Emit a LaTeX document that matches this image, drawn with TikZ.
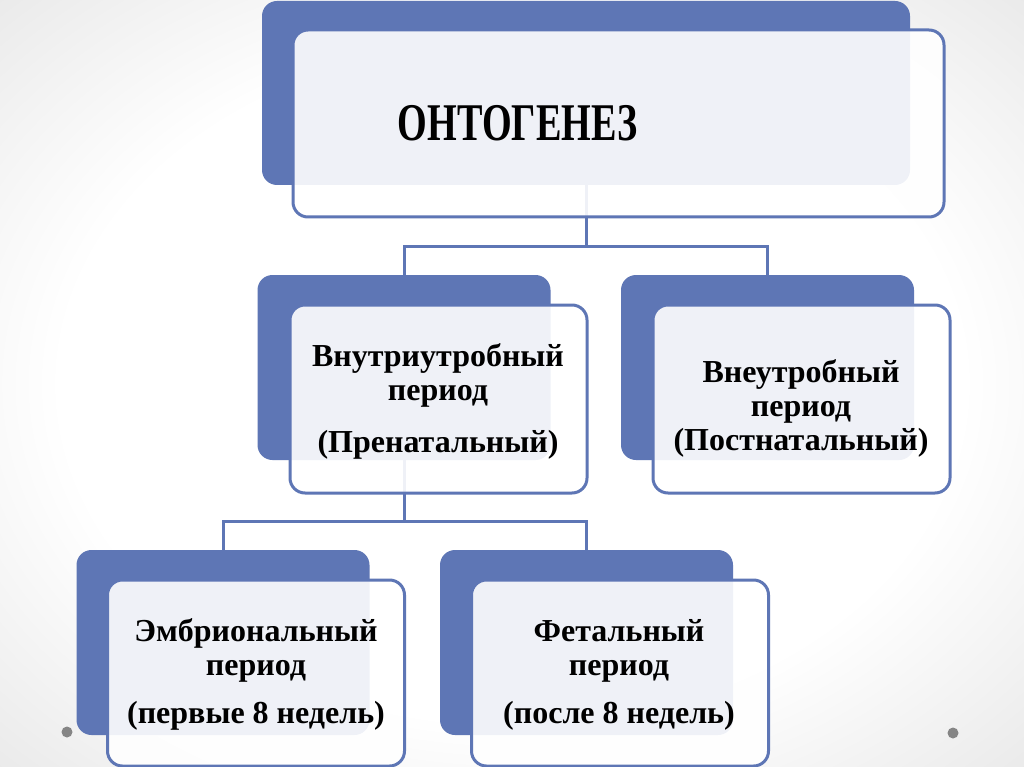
\documentclass[tikz,border=0pt]{standalone}
\usepackage{fontspec}
\setmainfont{Liberation Serif}
\newfontfamily\narrowserif[FakeStretch=0.72]{Liberation Serif}
\usetikzlibrary{calc}
\definecolor{slate}{HTML}{5E76B5}
\definecolor{pin}{HTML}{858585}
\pgfdeclareradialshading{slide}{\pgfpoint{0bp}{0bp}}{color(0bp)=(white);
  color(22bp)=(white); color(50bp)=(black!17); color(72bp)=(black!26)}

\begin{document}
\begin{tikzpicture}[
  x=1pt,y=1pt,font=\bfseries\fontsize{32}{34}\selectfont,
  back/.style={fill=slate,rounded corners=15pt,minimum width=293pt,
    minimum height=185pt,inner sep=0pt},
  front/.style={draw=slate,line width=3pt,fill=white,fill opacity=.9,
    rounded corners=15pt,minimum width=297pt,minimum height=188pt,inner sep=0pt},
  caption/.style={align=center,inner sep=0pt},
  link/.style={draw=slate,line width=3pt},
  pin/.style={circle,fill=pin,minimum size=11pt,inner sep=0pt}
]
\path[use as bounding box] (0,0) rectangle (1024,-767);
\shade[shading=slide] (0,0) rectangle (1024,-767);

% Blue backing plates; the framed boxes sit on top, shifted down right.
\node[back,minimum width=648pt,minimum height=184pt] (onto) at (586,-93) {};
\node[back] (intra) at (404,-367.5) {};
\node[back] (extra) at (767.5,-367.5) {};
\node[back] (embryo) at (223,-642.5) {};
\node[back] (fetal) at (586.5,-642.5) {};

\coordinate (fork1) at (586,-246);
\coordinate (fork2) at (404,-521);
\draw[link] (onto.south) -- (fork1) -| (intra.north);
\draw[link] (fork1) -| (extra.north);
\draw[link] (intra.south) -- (fork2) -| (embryo.north);
\draw[link] (fork2) -| (fetal.north);

\node[front,minimum width=651pt,minimum height=187pt] (ontobox) at (618.5,-123.5) {};
\node[front] (intrabox) at (438.5,-399) {};
\node[front] (extrabox) at (801.5,-399) {};
\node[front,minimum height=186pt] (embryobox) at (256,-673) {};
\node[front,minimum height=186pt] (fetalbox) at (620,-673) {};

\node[caption,font=\narrowserif\bfseries\fontsize{53}{60}\selectfont] (title)
  at (517.5,-123) {ОНТОГЕНЕЗ};
\node[caption] (intratext) at (438,-401) {Внутриутробный\\период\\[18pt](Пренатальный)};
\node[caption] (extratext) at (801,-408) {Внеутробный\\период\\(Постнатальный)};
\node[caption] (embryotext) at (256,-674) {Эмбриональный\\период\\[14pt](первые 8 недель)};
\node[caption] (fetaltext) at (619,-675) {Фетальный\\период\\[14pt](после 8 недель)};

\node[pin] (pinl) at (67,-732) {};
\node[pin] (pinr) at (953,-733) {};
\end{tikzpicture}
\end{document}
